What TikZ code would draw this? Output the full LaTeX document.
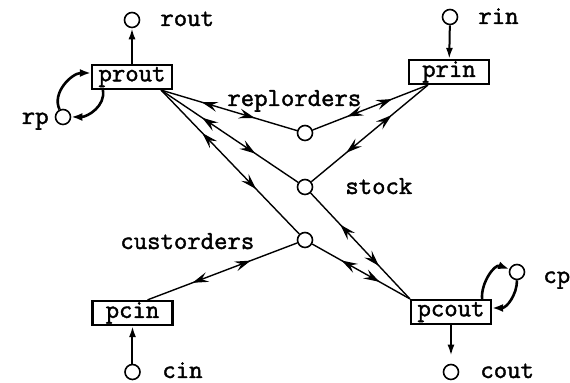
\documentclass[tikz,border=0pt]{standalone}
\usepackage{fontspec}
\setmonofont{Latin Modern Mono}[AutoFakeBold=1.6]
\usetikzlibrary{arrows.meta,decorations.markings}

\begin{document}
\begin{tikzpicture}[x=0.5pt,y=0.5pt,
		every node/.style={font=\fontsize{13}{15}\selectfont\ttfamily\bfseries},
		proc/.style={draw,line width=1.1pt,minimum width=40pt,minimum height=12pt,inner sep=0pt},
		chan/.style={draw,circle,line width=0.8pt,minimum size=7.5pt,inner sep=0pt},
		lbl/.style={inner sep=0pt},
		twoway/.style={line width=0.7pt,postaction={decorate},decoration={markings,
			mark=at position 0.3 with {\arrowreversed{Stealth[length=8pt,width=5pt,inset=3pt]}},
			mark=at position 0.69 with {\arrow{Stealth[length=8pt,width=5pt,inset=3pt]}}}},
		stub/.style={line width=1pt,-{Latex[length=5.5pt,width=3.5pt]}},
		selfloop/.style={line width=1.3pt,-{Latex[length=5.5pt,width=4pt]}}]
	\useasboundingbox (0,0) rectangle (570,383);
	% processes
	\node[proc] (prout) at (132,306) {prout};
	\node[proc] (prin) at (449,311) {prin};
	\node[proc] (pcin) at (132.5,70) {pcin};
	\node[proc] (pcout) at (451,71) {pcout};
	% channels
	\node[chan] (rout) at (132,363) {};
	\node[chan] (rin) at (450,366) {};
	\node[chan] (rp) at (63,266) {};
	\node[chan] (replorders) at (305,250) {};
	\node[chan] (stock) at (305,196) {};
	\node[chan] (custorders) at (305,143) {};
	\node[chan] (cin) at (132.5,11) {};
	\node[chan] (cout) at (451,11) {};
	\node[chan] (cp) at (517,111) {};
	% channel names
	\node[lbl,anchor=base west] (routlbl) at (160,357) {rout};
	\node[lbl,anchor=base west] (rinlbl) at (478,359) {rin};
	\node[lbl,anchor=base east] (rplbl) at (49,259) {rp};
	\node[lbl,anchor=base west] (replorderslbl) at (227,277) {replorders};
	\node[lbl,anchor=base west] (stocklbl) at (345,189) {stock};
	\node[lbl,anchor=base west] (custorderslbl) at (120,134) {custorders};
	\node[lbl,anchor=base west] (cinlbl) at (162,5) {cin};
	\node[lbl,anchor=base west] (coutlbl) at (480,5) {cout};
	\node[lbl,anchor=base west] (cplbl) at (543,100) {cp};
	% links
	\draw[twoway] ([xshift=-6pt]prout.south east) -- (replorders);
	\draw[twoway] ([xshift=-6pt]prout.south east) -- (stock);
	\draw[twoway] ([xshift=-6pt]prout.south east) -- (custorders);
	\draw[twoway] (replorders) -- ([xshift=10pt]prin.south west);
	\draw[twoway] (stock) -- ([xshift=10pt]prin.south west);
	\draw[twoway] ([xshift=7.5pt]pcin.north) -- (custorders);
	\draw[twoway] (custorders) -- (pcout.north west);
	\draw[twoway] (stock) -- (pcout.north west);
	\draw[stub] (prout) -- (rout);
	\draw[stub] (rin) -- (prin);
	\draw[stub] (cin) -- (pcin);
	\draw[stub,shorten >=4pt] (pcout) -- (cout);
	\draw[selfloop] (rp) to[out=115,in=180] ([yshift=2pt]prout.west);
	\draw[selfloop] ([xshift=6pt]prout.south west) to[out=-80,in=0] (rp);
	\draw[selfloop] ([xshift=-5pt]pcout.north east) to[out=95,in=160] (cp);
	\draw[selfloop] (cp) to[out=-90,in=0] ([yshift=2pt]pcout.east);
\end{tikzpicture}
\end{document}
